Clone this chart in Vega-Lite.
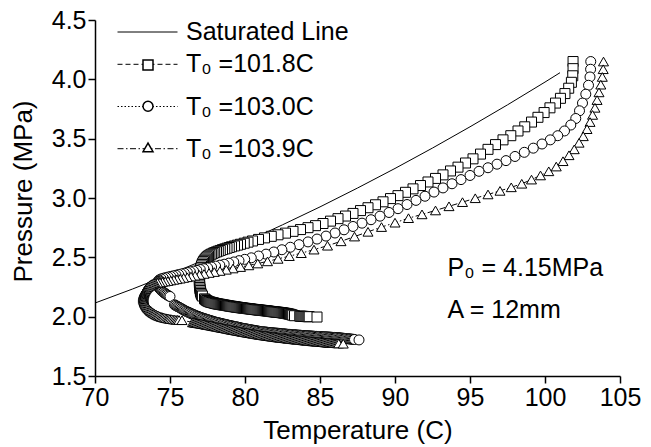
{
"$schema": "https://vega.github.io/schema/vega-lite/v6.json",
"width": 525, "height": 356,
"autosize": {"type": "none"},
"padding": {"left": 95, "top": 20, "right": 31, "bottom": 71},
"background": "white",
"config": {"view": {"stroke": null}, "font": "Liberation Sans"},
"datasets": {
"curves": [
{"s":"Saturated Line","T":70,"P":2.115},{"s":"Saturated Line","T":72.5,"P":2.233},{"s":"Saturated Line","T":75,"P":2.358},{"s":"Saturated Line","T":77.5,"P":2.49},{"s":"Saturated Line","T":80,"P":2.628},{"s":"Saturated Line","T":82.5,"P":2.774},{"s":"Saturated Line","T":85,"P":2.925},{"s":"Saturated Line","T":87.5,"P":3.084},{"s":"Saturated Line","T":90,"P":3.249},{"s":"Saturated Line","T":92.5,"P":3.421},{"s":"Saturated Line","T":95,"P":3.6},{"s":"Saturated Line","T":97.5,"P":3.785},{"s":"Saturated Line","T":100,"P":3.977},{"s":"Saturated Line","T":101,"P":4.056},

{"s":"T₀ =101.8C","T":101.87,"P":4.15},{"s":"T₀ =101.8C","T":101.87,"P":4.09},{"s":"T₀ =101.8C","T":101.85,"P":4.03},{"s":"T₀ =101.8C","T":101.76,"P":3.975},{"s":"T₀ =101.8C","T":101.58,"P":3.925},{"s":"T₀ =101.8C","T":101.33,"P":3.88},{"s":"T₀ =101.8C","T":101.03,"P":3.84},{"s":"T₀ =101.8C","T":100.7,"P":3.8},{"s":"T₀ =101.8C","T":100.33,"P":3.76},{"s":"T₀ =101.8C","T":99.94,"P":3.72},{"s":"T₀ =101.8C","T":99.53,"P":3.68},{"s":"T₀ =101.8C","T":99.1,"P":3.64},{"s":"T₀ =101.8C","T":98.65,"P":3.6},{"s":"T₀ =101.8C","T":98.2,"P":3.565},{"s":"T₀ =101.8C","T":97.72,"P":3.525},{"s":"T₀ =101.8C","T":97.2,"P":3.49},{"s":"T₀ =101.8C","T":96.7,"P":3.45},{"s":"T₀ =101.8C","T":96.2,"P":3.41},{"s":"T₀ =101.8C","T":95.7,"P":3.37},{"s":"T₀ =101.8C","T":95.2,"P":3.33},{"s":"T₀ =101.8C","T":94.7,"P":3.295},{"s":"T₀ =101.8C","T":94.2,"P":3.26},{"s":"T₀ =101.8C","T":93.7,"P":3.228},{"s":"T₀ =101.8C","T":93.2,"P":3.195},{"s":"T₀ =101.8C","T":92.7,"P":3.165},{"s":"T₀ =101.8C","T":92.2,"P":3.135},{"s":"T₀ =101.8C","T":91.7,"P":3.105},{"s":"T₀ =101.8C","T":91.2,"P":3.077},{"s":"T₀ =101.8C","T":90.7,"P":3.048},{"s":"T₀ =101.8C","T":90.2,"P":3.02},{"s":"T₀ =101.8C","T":89.7,"P":2.995},{"s":"T₀ =101.8C","T":89.2,"P":2.968},{"s":"T₀ =101.8C","T":88.7,"P":2.943},{"s":"T₀ =101.8C","T":88.2,"P":2.918},{"s":"T₀ =101.8C","T":87.7,"P":2.894},{"s":"T₀ =101.8C","T":87.2,"P":2.87},{"s":"T₀ =101.8C","T":86.7,"P":2.848},{"s":"T₀ =101.8C","T":86.2,"P":2.826},{"s":"T₀ =101.8C","T":85.7,"P":2.805},{"s":"T₀ =101.8C","T":85.2,"P":2.785},{"s":"T₀ =101.8C","T":84.7,"P":2.767},{"s":"T₀ =101.8C","T":84.2,"P":2.75},{"s":"T₀ =101.8C","T":83.7,"P":2.734},{"s":"T₀ =101.8C","T":83.2,"P":2.719},{"s":"T₀ =101.8C","T":82.7,"P":2.704},{"s":"T₀ =101.8C","T":82.2,"P":2.69},{"s":"T₀ =101.8C","T":81.75,"P":2.677},{"s":"T₀ =101.8C","T":81.3,"P":2.664},{"s":"T₀ =101.8C","T":80.9,"P":2.651},{"s":"T₀ =101.8C","T":80.5,"P":2.638},{"s":"T₀ =101.8C","T":80.2,"P":2.628},{"s":"T₀ =101.8C","T":79.95,"P":2.619},{"s":"T₀ =101.8C","T":79.7,"P":2.61},{"s":"T₀ =101.8C","T":79.5,"P":2.603},{"s":"T₀ =101.8C","T":79.3,"P":2.596},{"s":"T₀ =101.8C","T":79.1,"P":2.589},{"s":"T₀ =101.8C","T":78.95,"P":2.583},{"s":"T₀ =101.8C","T":78.8,"P":2.577},{"s":"T₀ =101.8C","T":78.65,"P":2.571},{"s":"T₀ =101.8C","T":78.5,"P":2.565},{"s":"T₀ =101.8C","T":78.35,"P":2.558},{"s":"T₀ =101.8C","T":78.22,"P":2.552},{"s":"T₀ =101.8C","T":78.1,"P":2.546},{"s":"T₀ =101.8C","T":77.98,"P":2.54},{"s":"T₀ =101.8C","T":77.87,"P":2.534},{"s":"T₀ =101.8C","T":77.76,"P":2.527},{"s":"T₀ =101.8C","T":77.66,"P":2.52},{"s":"T₀ =101.8C","T":77.57,"P":2.512},{"s":"T₀ =101.8C","T":77.49,"P":2.504},{"s":"T₀ =101.8C","T":77.42,"P":2.495},{"s":"T₀ =101.8C","T":77.35,"P":2.485},{"s":"T₀ =101.8C","T":77.29,"P":2.475},{"s":"T₀ =101.8C","T":77.23,"P":2.464},{"s":"T₀ =101.8C","T":77.18,"P":2.452},{"s":"T₀ =101.8C","T":77.14,"P":2.44},{"s":"T₀ =101.8C","T":77.1,"P":2.428},{"s":"T₀ =101.8C","T":77.07,"P":2.415},{"s":"T₀ =101.8C","T":77.04,"P":2.402},{"s":"T₀ =101.8C","T":77.02,"P":2.389},{"s":"T₀ =101.8C","T":77.0,"P":2.376},{"s":"T₀ =101.8C","T":76.99,"P":2.363},{"s":"T₀ =101.8C","T":76.98,"P":2.35},{"s":"T₀ =101.8C","T":76.97,"P":2.337},{"s":"T₀ =101.8C","T":76.96,"P":2.324},{"s":"T₀ =101.8C","T":76.96,"P":2.311},{"s":"T₀ =101.8C","T":76.96,"P":2.298},{"s":"T₀ =101.8C","T":76.96,"P":2.285},{"s":"T₀ =101.8C","T":76.97,"P":2.272},{"s":"T₀ =101.8C","T":76.98,"P":2.259},{"s":"T₀ =101.8C","T":76.99,"P":2.246},{"s":"T₀ =101.8C","T":77.0,"P":2.233},{"s":"T₀ =101.8C","T":77.02,"P":2.22},{"s":"T₀ =101.8C","T":77.04,"P":2.207},{"s":"T₀ =101.8C","T":77.07,"P":2.195},{"s":"T₀ =101.8C","T":77.11,"P":2.184},{"s":"T₀ =101.8C","T":77.16,"P":2.174},
{"s":"T₀ =101.8C","T":77.3,"P":2.15},{"s":"T₀ =101.8C","T":77.37,"P":2.143},{"s":"T₀ =101.8C","T":77.44,"P":2.136},{"s":"T₀ =101.8C","T":77.51,"P":2.131},{"s":"T₀ =101.8C","T":77.58,"P":2.127},{"s":"T₀ =101.8C","T":77.65,"P":2.124},{"s":"T₀ =101.8C","T":77.72,"P":2.121},{"s":"T₀ =101.8C","T":77.79,"P":2.119},{"s":"T₀ =101.8C","T":77.86,"P":2.117},{"s":"T₀ =101.8C","T":77.93,"P":2.115},{"s":"T₀ =101.8C","T":78.0,"P":2.112},{"s":"T₀ =101.8C","T":78.07,"P":2.11},{"s":"T₀ =101.8C","T":78.14,"P":2.108},{"s":"T₀ =101.8C","T":78.21,"P":2.107},{"s":"T₀ =101.8C","T":78.28,"P":2.105},{"s":"T₀ =101.8C","T":78.35,"P":2.104},{"s":"T₀ =101.8C","T":78.42,"P":2.102},{"s":"T₀ =101.8C","T":78.49,"P":2.1},{"s":"T₀ =101.8C","T":78.56,"P":2.099},{"s":"T₀ =101.8C","T":78.63,"P":2.097},{"s":"T₀ =101.8C","T":78.7,"P":2.096},{"s":"T₀ =101.8C","T":78.77,"P":2.094},{"s":"T₀ =101.8C","T":78.84,"P":2.093},{"s":"T₀ =101.8C","T":78.91,"P":2.091},{"s":"T₀ =101.8C","T":78.98,"P":2.089},{"s":"T₀ =101.8C","T":79.05,"P":2.088},{"s":"T₀ =101.8C","T":79.12,"P":2.087},{"s":"T₀ =101.8C","T":79.19,"P":2.085},{"s":"T₀ =101.8C","T":79.26,"P":2.084},{"s":"T₀ =101.8C","T":79.33,"P":2.083},{"s":"T₀ =101.8C","T":79.4,"P":2.081},{"s":"T₀ =101.8C","T":79.47,"P":2.08},{"s":"T₀ =101.8C","T":79.54,"P":2.079},{"s":"T₀ =101.8C","T":79.61,"P":2.077},{"s":"T₀ =101.8C","T":79.68,"P":2.076},{"s":"T₀ =101.8C","T":79.75,"P":2.075},{"s":"T₀ =101.8C","T":79.82,"P":2.074},{"s":"T₀ =101.8C","T":79.89,"P":2.072},{"s":"T₀ =101.8C","T":79.96,"P":2.071},{"s":"T₀ =101.8C","T":80.03,"P":2.07},{"s":"T₀ =101.8C","T":80.1,"P":2.069},{"s":"T₀ =101.8C","T":80.17,"P":2.068},{"s":"T₀ =101.8C","T":80.24,"P":2.067},{"s":"T₀ =101.8C","T":80.31,"P":2.066},{"s":"T₀ =101.8C","T":80.38,"P":2.065},{"s":"T₀ =101.8C","T":80.45,"P":2.063},{"s":"T₀ =101.8C","T":80.52,"P":2.062},{"s":"T₀ =101.8C","T":80.59,"P":2.061},{"s":"T₀ =101.8C","T":80.66,"P":2.06},{"s":"T₀ =101.8C","T":80.73,"P":2.059},{"s":"T₀ =101.8C","T":80.8,"P":2.058},{"s":"T₀ =101.8C","T":80.87,"P":2.057},{"s":"T₀ =101.8C","T":80.94,"P":2.056},{"s":"T₀ =101.8C","T":81.01,"P":2.055},{"s":"T₀ =101.8C","T":81.08,"P":2.054},{"s":"T₀ =101.8C","T":81.15,"P":2.053},{"s":"T₀ =101.8C","T":81.22,"P":2.052},{"s":"T₀ =101.8C","T":81.29,"P":2.051},{"s":"T₀ =101.8C","T":81.36,"P":2.05},{"s":"T₀ =101.8C","T":81.43,"P":2.049},{"s":"T₀ =101.8C","T":81.5,"P":2.048},{"s":"T₀ =101.8C","T":81.57,"P":2.047},{"s":"T₀ =101.8C","T":81.64,"P":2.045},{"s":"T₀ =101.8C","T":81.71,"P":2.044},{"s":"T₀ =101.8C","T":81.78,"P":2.043},{"s":"T₀ =101.8C","T":81.85,"P":2.042},{"s":"T₀ =101.8C","T":81.92,"P":2.041},{"s":"T₀ =101.8C","T":81.99,"P":2.04},{"s":"T₀ =101.8C","T":82.06,"P":2.039},{"s":"T₀ =101.8C","T":82.13,"P":2.038},{"s":"T₀ =101.8C","T":82.2,"P":2.037},{"s":"T₀ =101.8C","T":82.27,"P":2.036},{"s":"T₀ =101.8C","T":82.34,"P":2.035},{"s":"T₀ =101.8C","T":82.41,"P":2.034},{"s":"T₀ =101.8C","T":82.48,"P":2.033},{"s":"T₀ =101.8C","T":82.55,"P":2.031},{"s":"T₀ =101.8C","T":82.62,"P":2.03},{"s":"T₀ =101.8C","T":82.69,"P":2.028},{"s":"T₀ =101.8C","T":82.76,"P":2.027},{"s":"T₀ =101.8C","T":82.83,"P":2.025},{"s":"T₀ =101.8C","T":82.9,"P":2.023},{"s":"T₀ =101.8C","T":82.97,"P":2.021},{"s":"T₀ =101.8C","T":83.04,"P":2.019},{"s":"T₀ =101.8C","T":83.11,"P":2.016},{"s":"T₀ =101.8C","T":83.18,"P":2.013},{"s":"T₀ =101.8C","T":83.3,"P":2.008},{"s":"T₀ =101.8C","T":83.65,"P":2.004},{"s":"T₀ =101.8C","T":83.72,"P":2.0035},{"s":"T₀ =101.8C","T":83.79,"P":2.003},{"s":"T₀ =101.8C","T":83.86,"P":2.0025},{"s":"T₀ =101.8C","T":83.93,"P":2.002},{"s":"T₀ =101.8C","T":84.0,"P":2.0015},{"s":"T₀ =101.8C","T":84.07,"P":2.001},{"s":"T₀ =101.8C","T":84.14,"P":2.0005},{"s":"T₀ =101.8C","T":84.21,"P":2.0},{"s":"T₀ =101.8C","T":84.28,"P":2.0},{"s":"T₀ =101.8C","T":84.8,"P":1.997},

{"s":"T₀ =103.0C","T":103.05,"P":4.15},{"s":"T₀ =103.0C","T":103.04,"P":4.085},{"s":"T₀ =103.0C","T":103.0,"P":4.02},{"s":"T₀ =103.0C","T":102.9,"P":3.95},{"s":"T₀ =103.0C","T":102.72,"P":3.875},{"s":"T₀ =103.0C","T":102.5,"P":3.8},{"s":"T₀ =103.0C","T":102.3,"P":3.735},{"s":"T₀ =103.0C","T":102.05,"P":3.67},{"s":"T₀ =103.0C","T":101.72,"P":3.615},{"s":"T₀ =103.0C","T":101.3,"P":3.565},{"s":"T₀ =103.0C","T":100.85,"P":3.525},{"s":"T₀ =103.0C","T":100.35,"P":3.49},{"s":"T₀ =103.0C","T":99.8,"P":3.455},{"s":"T₀ =103.0C","T":99.22,"P":3.42},{"s":"T₀ =103.0C","T":98.62,"P":3.385},{"s":"T₀ =103.0C","T":98.0,"P":3.35},{"s":"T₀ =103.0C","T":97.4,"P":3.315},{"s":"T₀ =103.0C","T":96.8,"P":3.285},{"s":"T₀ =103.0C","T":96.2,"P":3.255},{"s":"T₀ =103.0C","T":95.6,"P":3.225},{"s":"T₀ =103.0C","T":95.0,"P":3.19},{"s":"T₀ =103.0C","T":94.4,"P":3.155},{"s":"T₀ =103.0C","T":93.8,"P":3.12},{"s":"T₀ =103.0C","T":93.2,"P":3.085},{"s":"T₀ =103.0C","T":92.6,"P":3.05},{"s":"T₀ =103.0C","T":92.0,"P":3.015},{"s":"T₀ =103.0C","T":91.4,"P":2.98},{"s":"T₀ =103.0C","T":90.8,"P":2.945},{"s":"T₀ =103.0C","T":90.2,"P":2.91},{"s":"T₀ =103.0C","T":89.6,"P":2.878},{"s":"T₀ =103.0C","T":89.0,"P":2.847},{"s":"T₀ =103.0C","T":88.4,"P":2.817},{"s":"T₀ =103.0C","T":87.8,"P":2.788},{"s":"T₀ =103.0C","T":87.2,"P":2.76},{"s":"T₀ =103.0C","T":86.6,"P":2.732},{"s":"T₀ =103.0C","T":86.0,"P":2.705},{"s":"T₀ =103.0C","T":85.4,"P":2.679},{"s":"T₀ =103.0C","T":84.8,"P":2.654},{"s":"T₀ =103.0C","T":84.2,"P":2.63},{"s":"T₀ =103.0C","T":83.6,"P":2.607},{"s":"T₀ =103.0C","T":83.02,"P":2.585},{"s":"T₀ =103.0C","T":82.46,"P":2.564},{"s":"T₀ =103.0C","T":81.92,"P":2.545},{"s":"T₀ =103.0C","T":81.4,"P":2.527},{"s":"T₀ =103.0C","T":80.9,"P":2.511},{"s":"T₀ =103.0C","T":80.42,"P":2.496},{"s":"T₀ =103.0C","T":79.98,"P":2.483},{"s":"T₀ =103.0C","T":79.6,"P":2.472},{"s":"T₀ =103.0C","T":79.25,"P":2.461},{"s":"T₀ =103.0C","T":78.92,"P":2.451},{"s":"T₀ =103.0C","T":78.61,"P":2.442},{"s":"T₀ =103.0C","T":78.32,"P":2.434},{"s":"T₀ =103.0C","T":78.04,"P":2.426},{"s":"T₀ =103.0C","T":77.77,"P":2.418},{"s":"T₀ =103.0C","T":77.51,"P":2.411},{"s":"T₀ =103.0C","T":77.26,"P":2.404},{"s":"T₀ =103.0C","T":77.02,"P":2.397},{"s":"T₀ =103.0C","T":76.79,"P":2.39},{"s":"T₀ =103.0C","T":76.57,"P":2.384},{"s":"T₀ =103.0C","T":76.36,"P":2.378},{"s":"T₀ =103.0C","T":76.16,"P":2.372},{"s":"T₀ =103.0C","T":75.96,"P":2.366},{"s":"T₀ =103.0C","T":75.77,"P":2.36},{"s":"T₀ =103.0C","T":75.58,"P":2.355},{"s":"T₀ =103.0C","T":75.4,"P":2.349},{"s":"T₀ =103.0C","T":75.22,"P":2.344},{"s":"T₀ =103.0C","T":75.05,"P":2.339},{"s":"T₀ =103.0C","T":74.88,"P":2.334},{"s":"T₀ =103.0C","T":74.72,"P":2.329},{"s":"T₀ =103.0C","T":74.56,"P":2.324},{"s":"T₀ =103.0C","T":74.41,"P":2.318},{"s":"T₀ =103.0C","T":74.28,"P":2.31},{"s":"T₀ =103.0C","T":74.24,"P":2.304},{"s":"T₀ =103.0C","T":74.2,"P":2.298},{"s":"T₀ =103.0C","T":74.18,"P":2.291},{"s":"T₀ =103.0C","T":74.17,"P":2.284},{"s":"T₀ =103.0C","T":74.17,"P":2.277},{"s":"T₀ =103.0C","T":74.18,"P":2.27},{"s":"T₀ =103.0C","T":74.2,"P":2.263},{"s":"T₀ =103.0C","T":74.22,"P":2.256},{"s":"T₀ =103.0C","T":74.25,"P":2.249},{"s":"T₀ =103.0C","T":74.28,"P":2.243},{"s":"T₀ =103.0C","T":74.32,"P":2.236},{"s":"T₀ =103.0C","T":74.36,"P":2.23},{"s":"T₀ =103.0C","T":74.41,"P":2.223},{"s":"T₀ =103.0C","T":74.46,"P":2.217},{"s":"T₀ =103.0C","T":74.51,"P":2.211},{"s":"T₀ =103.0C","T":74.57,"P":2.205},{"s":"T₀ =103.0C","T":74.63,"P":2.199},{"s":"T₀ =103.0C","T":74.7,"P":2.193},{"s":"T₀ =103.0C","T":74.77,"P":2.187},{"s":"T₀ =103.0C","T":74.84,"P":2.181},{"s":"T₀ =103.0C","T":74.92,"P":2.175},{"s":"T₀ =103.0C","T":75.0,"P":2.17},
{"s":"T₀ =103.0C","T":75.3,"P":2.1},{"s":"T₀ =103.0C","T":75.375,"P":2.095},{"s":"T₀ =103.0C","T":75.45,"P":2.089},{"s":"T₀ =103.0C","T":75.525,"P":2.084},{"s":"T₀ =103.0C","T":75.6,"P":2.079},{"s":"T₀ =103.0C","T":75.675,"P":2.074},{"s":"T₀ =103.0C","T":75.75,"P":2.068},{"s":"T₀ =103.0C","T":75.825,"P":2.063},{"s":"T₀ =103.0C","T":75.9,"P":2.057},{"s":"T₀ =103.0C","T":75.975,"P":2.052},{"s":"T₀ =103.0C","T":76.05,"P":2.047},{"s":"T₀ =103.0C","T":76.125,"P":2.043},{"s":"T₀ =103.0C","T":76.2,"P":2.038},{"s":"T₀ =103.0C","T":76.275,"P":2.034},{"s":"T₀ =103.0C","T":76.35,"P":2.03},{"s":"T₀ =103.0C","T":76.425,"P":2.025},{"s":"T₀ =103.0C","T":76.5,"P":2.021},{"s":"T₀ =103.0C","T":76.575,"P":2.017},{"s":"T₀ =103.0C","T":76.65,"P":2.013},{"s":"T₀ =103.0C","T":76.725,"P":2.009},{"s":"T₀ =103.0C","T":76.8,"P":2.005},{"s":"T₀ =103.0C","T":76.875,"P":2.002},{"s":"T₀ =103.0C","T":76.95,"P":1.998},{"s":"T₀ =103.0C","T":77.025,"P":1.995},{"s":"T₀ =103.0C","T":77.1,"P":1.991},{"s":"T₀ =103.0C","T":77.175,"P":1.988},{"s":"T₀ =103.0C","T":77.25,"P":1.985},{"s":"T₀ =103.0C","T":77.325,"P":1.982},{"s":"T₀ =103.0C","T":77.4,"P":1.979},{"s":"T₀ =103.0C","T":77.475,"P":1.976},{"s":"T₀ =103.0C","T":77.55,"P":1.973},{"s":"T₀ =103.0C","T":77.625,"P":1.97},{"s":"T₀ =103.0C","T":77.7,"P":1.967},{"s":"T₀ =103.0C","T":77.775,"P":1.964},{"s":"T₀ =103.0C","T":77.85,"P":1.961},{"s":"T₀ =103.0C","T":77.925,"P":1.958},{"s":"T₀ =103.0C","T":78.0,"P":1.955},{"s":"T₀ =103.0C","T":78.075,"P":1.953},{"s":"T₀ =103.0C","T":78.15,"P":1.951},{"s":"T₀ =103.0C","T":78.225,"P":1.948},{"s":"T₀ =103.0C","T":78.3,"P":1.946},{"s":"T₀ =103.0C","T":78.375,"P":1.944},{"s":"T₀ =103.0C","T":78.45,"P":1.942},{"s":"T₀ =103.0C","T":78.525,"P":1.939},{"s":"T₀ =103.0C","T":78.6,"P":1.937},{"s":"T₀ =103.0C","T":78.675,"P":1.935},{"s":"T₀ =103.0C","T":78.75,"P":1.933},{"s":"T₀ =103.0C","T":78.825,"P":1.93},{"s":"T₀ =103.0C","T":78.9,"P":1.928},{"s":"T₀ =103.0C","T":78.975,"P":1.926},{"s":"T₀ =103.0C","T":79.05,"P":1.924},{"s":"T₀ =103.0C","T":79.125,"P":1.922},{"s":"T₀ =103.0C","T":79.2,"P":1.92},{"s":"T₀ =103.0C","T":79.275,"P":1.918},{"s":"T₀ =103.0C","T":79.35,"P":1.916},{"s":"T₀ =103.0C","T":79.425,"P":1.914},{"s":"T₀ =103.0C","T":79.5,"P":1.912},{"s":"T₀ =103.0C","T":79.575,"P":1.91},{"s":"T₀ =103.0C","T":79.65,"P":1.908},{"s":"T₀ =103.0C","T":79.725,"P":1.905},{"s":"T₀ =103.0C","T":79.8,"P":1.903},{"s":"T₀ =103.0C","T":79.875,"P":1.901},{"s":"T₀ =103.0C","T":79.95,"P":1.9},{"s":"T₀ =103.0C","T":80.025,"P":1.898},{"s":"T₀ =103.0C","T":80.1,"P":1.896},{"s":"T₀ =103.0C","T":80.175,"P":1.894},{"s":"T₀ =103.0C","T":80.25,"P":1.893},{"s":"T₀ =103.0C","T":80.325,"P":1.891},{"s":"T₀ =103.0C","T":80.4,"P":1.889},{"s":"T₀ =103.0C","T":80.475,"P":1.887},{"s":"T₀ =103.0C","T":80.55,"P":1.886},{"s":"T₀ =103.0C","T":80.625,"P":1.884},{"s":"T₀ =103.0C","T":80.7,"P":1.882},{"s":"T₀ =103.0C","T":80.775,"P":1.88},{"s":"T₀ =103.0C","T":80.85,"P":1.879},{"s":"T₀ =103.0C","T":80.925,"P":1.877},{"s":"T₀ =103.0C","T":81.0,"P":1.875},{"s":"T₀ =103.0C","T":81.075,"P":1.874},{"s":"T₀ =103.0C","T":81.15,"P":1.873},{"s":"T₀ =103.0C","T":81.225,"P":1.872},{"s":"T₀ =103.0C","T":81.3,"P":1.871},{"s":"T₀ =103.0C","T":81.375,"P":1.87},{"s":"T₀ =103.0C","T":81.45,"P":1.869},{"s":"T₀ =103.0C","T":81.525,"P":1.868},{"s":"T₀ =103.0C","T":81.6,"P":1.867},{"s":"T₀ =103.0C","T":81.675,"P":1.866},{"s":"T₀ =103.0C","T":81.75,"P":1.865},{"s":"T₀ =103.0C","T":81.825,"P":1.864},{"s":"T₀ =103.0C","T":81.9,"P":1.863},{"s":"T₀ =103.0C","T":81.975,"P":1.862},{"s":"T₀ =103.0C","T":82.05,"P":1.861},{"s":"T₀ =103.0C","T":82.125,"P":1.861},{"s":"T₀ =103.0C","T":82.2,"P":1.86},{"s":"T₀ =103.0C","T":82.275,"P":1.859},{"s":"T₀ =103.0C","T":82.35,"P":1.858},{"s":"T₀ =103.0C","T":82.425,"P":1.857},{"s":"T₀ =103.0C","T":82.5,"P":1.856},{"s":"T₀ =103.0C","T":82.575,"P":1.855},{"s":"T₀ =103.0C","T":82.65,"P":1.854},{"s":"T₀ =103.0C","T":82.725,"P":1.853},{"s":"T₀ =103.0C","T":82.8,"P":1.852},{"s":"T₀ =103.0C","T":82.875,"P":1.851},{"s":"T₀ =103.0C","T":82.95,"P":1.851},{"s":"T₀ =103.0C","T":83.025,"P":1.85},{"s":"T₀ =103.0C","T":83.1,"P":1.849},{"s":"T₀ =103.0C","T":83.175,"P":1.848},{"s":"T₀ =103.0C","T":83.25,"P":1.847},{"s":"T₀ =103.0C","T":83.325,"P":1.847},{"s":"T₀ =103.0C","T":83.4,"P":1.846},{"s":"T₀ =103.0C","T":83.475,"P":1.845},{"s":"T₀ =103.0C","T":83.55,"P":1.844},{"s":"T₀ =103.0C","T":83.625,"P":1.844},{"s":"T₀ =103.0C","T":83.7,"P":1.843},{"s":"T₀ =103.0C","T":83.775,"P":1.842},{"s":"T₀ =103.0C","T":83.85,"P":1.841},{"s":"T₀ =103.0C","T":83.925,"P":1.841},{"s":"T₀ =103.0C","T":84.0,"P":1.84},{"s":"T₀ =103.0C","T":84.075,"P":1.839},{"s":"T₀ =103.0C","T":84.15,"P":1.839},{"s":"T₀ =103.0C","T":84.225,"P":1.838},{"s":"T₀ =103.0C","T":84.3,"P":1.838},{"s":"T₀ =103.0C","T":84.375,"P":1.837},{"s":"T₀ =103.0C","T":84.45,"P":1.836},{"s":"T₀ =103.0C","T":84.525,"P":1.836},{"s":"T₀ =103.0C","T":84.6,"P":1.835},{"s":"T₀ =103.0C","T":84.675,"P":1.834},{"s":"T₀ =103.0C","T":84.75,"P":1.834},{"s":"T₀ =103.0C","T":84.825,"P":1.833},{"s":"T₀ =103.0C","T":84.9,"P":1.833},{"s":"T₀ =103.0C","T":84.975,"P":1.832},{"s":"T₀ =103.0C","T":85.05,"P":1.832},{"s":"T₀ =103.0C","T":85.125,"P":1.831},{"s":"T₀ =103.0C","T":85.2,"P":1.831},{"s":"T₀ =103.0C","T":85.275,"P":1.83},{"s":"T₀ =103.0C","T":85.35,"P":1.83},{"s":"T₀ =103.0C","T":85.425,"P":1.829},{"s":"T₀ =103.0C","T":85.5,"P":1.829},{"s":"T₀ =103.0C","T":85.575,"P":1.828},{"s":"T₀ =103.0C","T":85.65,"P":1.827},{"s":"T₀ =103.0C","T":85.725,"P":1.827},{"s":"T₀ =103.0C","T":85.8,"P":1.826},{"s":"T₀ =103.0C","T":85.875,"P":1.825},{"s":"T₀ =103.0C","T":85.95,"P":1.825},{"s":"T₀ =103.0C","T":86.025,"P":1.824},{"s":"T₀ =103.0C","T":86.1,"P":1.824},{"s":"T₀ =103.0C","T":86.175,"P":1.823},{"s":"T₀ =103.0C","T":86.25,"P":1.822},{"s":"T₀ =103.0C","T":86.325,"P":1.821},{"s":"T₀ =103.0C","T":86.4,"P":1.82},{"s":"T₀ =103.0C","T":86.475,"P":1.819},{"s":"T₀ =103.0C","T":86.55,"P":1.818},{"s":"T₀ =103.0C","T":86.625,"P":1.817},{"s":"T₀ =103.0C","T":86.7,"P":1.816},{"s":"T₀ =103.0C","T":86.775,"P":1.815},{"s":"T₀ =103.0C","T":86.85,"P":1.814},{"s":"T₀ =103.0C","T":86.925,"P":1.813},{"s":"T₀ =103.0C","T":87.0,"P":1.812},{"s":"T₀ =103.0C","T":87.075,"P":1.811},{"s":"T₀ =103.0C","T":87.15,"P":1.81},{"s":"T₀ =103.0C","T":87.225,"P":1.809},{"s":"T₀ =103.0C","T":87.3,"P":1.808},{"s":"T₀ =103.0C","T":87.6,"P":1.804},

{"s":"T₀ =103.9C","T":103.9,"P":4.15},{"s":"T₀ =103.9C","T":103.88,"P":4.085},{"s":"T₀ =103.9C","T":103.82,"P":4.02},{"s":"T₀ =103.9C","T":103.72,"P":3.955},{"s":"T₀ =103.9C","T":103.6,"P":3.89},{"s":"T₀ =103.9C","T":103.47,"P":3.825},{"s":"T₀ =103.9C","T":103.33,"P":3.76},{"s":"T₀ =103.9C","T":103.17,"P":3.7},{"s":"T₀ =103.9C","T":103.0,"P":3.64},{"s":"T₀ =103.9C","T":102.8,"P":3.58},{"s":"T₀ =103.9C","T":102.55,"P":3.52},{"s":"T₀ =103.9C","T":102.27,"P":3.465},{"s":"T₀ =103.9C","T":101.95,"P":3.41},{"s":"T₀ =103.9C","T":101.6,"P":3.36},{"s":"T₀ =103.9C","T":101.2,"P":3.31},{"s":"T₀ =103.9C","T":100.75,"P":3.265},{"s":"T₀ =103.9C","T":100.25,"P":3.225},{"s":"T₀ =103.9C","T":99.7,"P":3.19},{"s":"T₀ =103.9C","T":99.1,"P":3.155},{"s":"T₀ =103.9C","T":98.45,"P":3.12},{"s":"T₀ =103.9C","T":97.75,"P":3.09},{"s":"T₀ =103.9C","T":97.0,"P":3.06},{"s":"T₀ =103.9C","T":96.2,"P":3.03},{"s":"T₀ =103.9C","T":95.35,"P":2.998},{"s":"T₀ =103.9C","T":94.5,"P":2.965},{"s":"T₀ =103.9C","T":93.6,"P":2.93},{"s":"T₀ =103.9C","T":92.7,"P":2.895},{"s":"T₀ =103.9C","T":91.8,"P":2.862},{"s":"T₀ =103.9C","T":90.9,"P":2.83},{"s":"T₀ =103.9C","T":90.0,"P":2.792},{"s":"T₀ =103.9C","T":89.1,"P":2.755},{"s":"T₀ =103.9C","T":88.2,"P":2.715},{"s":"T₀ =103.9C","T":87.3,"P":2.675},{"s":"T₀ =103.9C","T":86.4,"P":2.635},{"s":"T₀ =103.9C","T":85.5,"P":2.598},{"s":"T₀ =103.9C","T":84.6,"P":2.565},{"s":"T₀ =103.9C","T":83.75,"P":2.535},{"s":"T₀ =103.9C","T":82.95,"P":2.51},{"s":"T₀ =103.9C","T":82.2,"P":2.487},{"s":"T₀ =103.9C","T":81.5,"P":2.466},{"s":"T₀ =103.9C","T":80.85,"P":2.448},{"s":"T₀ =103.9C","T":80.25,"P":2.432},{"s":"T₀ =103.9C","T":79.7,"P":2.418},{"s":"T₀ =103.9C","T":79.2,"P":2.406},{"s":"T₀ =103.9C","T":78.75,"P":2.395},{"s":"T₀ =103.9C","T":78.33,"P":2.385},{"s":"T₀ =103.9C","T":77.95,"P":2.376},{"s":"T₀ =103.9C","T":77.6,"P":2.368},{"s":"T₀ =103.9C","T":77.27,"P":2.36},{"s":"T₀ =103.9C","T":76.96,"P":2.352},{"s":"T₀ =103.9C","T":76.67,"P":2.345},{"s":"T₀ =103.9C","T":76.4,"P":2.338},{"s":"T₀ =103.9C","T":76.15,"P":2.332},{"s":"T₀ =103.9C","T":75.91,"P":2.326},{"s":"T₀ =103.9C","T":75.68,"P":2.32},{"s":"T₀ =103.9C","T":75.46,"P":2.315},{"s":"T₀ =103.9C","T":75.25,"P":2.31},{"s":"T₀ =103.9C","T":75.05,"P":2.305},{"s":"T₀ =103.9C","T":74.86,"P":2.3},{"s":"T₀ =103.9C","T":74.68,"P":2.296},{"s":"T₀ =103.9C","T":74.5,"P":2.292},{"s":"T₀ =103.9C","T":74.33,"P":2.289},{"s":"T₀ =103.9C","T":74.17,"P":2.286},{"s":"T₀ =103.9C","T":74.02,"P":2.283},{"s":"T₀ =103.9C","T":73.95,"P":2.281},{"s":"T₀ =103.9C","T":73.88,"P":2.279},{"s":"T₀ =103.9C","T":73.81,"P":2.276},{"s":"T₀ =103.9C","T":73.75,"P":2.272},{"s":"T₀ =103.9C","T":73.69,"P":2.267},{"s":"T₀ =103.9C","T":73.63,"P":2.262},{"s":"T₀ =103.9C","T":73.57,"P":2.256},{"s":"T₀ =103.9C","T":73.52,"P":2.25},{"s":"T₀ =103.9C","T":73.47,"P":2.244},{"s":"T₀ =103.9C","T":73.42,"P":2.237},{"s":"T₀ =103.9C","T":73.38,"P":2.23},{"s":"T₀ =103.9C","T":73.34,"P":2.222},{"s":"T₀ =103.9C","T":73.31,"P":2.214},{"s":"T₀ =103.9C","T":73.28,"P":2.206},{"s":"T₀ =103.9C","T":73.26,"P":2.198},{"s":"T₀ =103.9C","T":73.24,"P":2.19},{"s":"T₀ =103.9C","T":73.23,"P":2.182},{"s":"T₀ =103.9C","T":73.22,"P":2.174},{"s":"T₀ =103.9C","T":73.22,"P":2.166},{"s":"T₀ =103.9C","T":73.22,"P":2.158},{"s":"T₀ =103.9C","T":73.23,"P":2.15},{"s":"T₀ =103.9C","T":73.24,"P":2.142},{"s":"T₀ =103.9C","T":73.26,"P":2.134},{"s":"T₀ =103.9C","T":73.28,"P":2.126},{"s":"T₀ =103.9C","T":73.3,"P":2.118},{"s":"T₀ =103.9C","T":73.33,"P":2.11},{"s":"T₀ =103.9C","T":73.36,"P":2.102},{"s":"T₀ =103.9C","T":73.4,"P":2.095},{"s":"T₀ =103.9C","T":73.44,"P":2.087},{"s":"T₀ =103.9C","T":73.48,"P":2.08},{"s":"T₀ =103.9C","T":73.52,"P":2.073},{"s":"T₀ =103.9C","T":73.57,"P":2.066},{"s":"T₀ =103.9C","T":73.62,"P":2.059},{"s":"T₀ =103.9C","T":73.67,"P":2.053},{"s":"T₀ =103.9C","T":73.72,"P":2.047},{"s":"T₀ =103.9C","T":73.78,"P":2.041},{"s":"T₀ =103.9C","T":73.84,"P":2.035},{"s":"T₀ =103.9C","T":73.9,"P":2.03},{"s":"T₀ =103.9C","T":73.96,"P":2.025},{"s":"T₀ =103.9C","T":74.03,"P":2.02},{"s":"T₀ =103.9C","T":74.1,"P":2.015},{"s":"T₀ =103.9C","T":74.17,"P":2.011},{"s":"T₀ =103.9C","T":74.24,"P":2.007},{"s":"T₀ =103.9C","T":74.32,"P":2.003},{"s":"T₀ =103.9C","T":74.4,"P":1.999},{"s":"T₀ =103.9C","T":74.48,"P":1.996},{"s":"T₀ =103.9C","T":74.56,"P":1.993},{"s":"T₀ =103.9C","T":74.65,"P":1.99},{"s":"T₀ =103.9C","T":74.74,"P":1.987},{"s":"T₀ =103.9C","T":74.83,"P":1.985},{"s":"T₀ =103.9C","T":74.91,"P":1.983},{"s":"T₀ =103.9C","T":75.0,"P":1.981},{"s":"T₀ =103.9C","T":75.1,"P":1.979},{"s":"T₀ =103.9C","T":75.2,"P":1.977},{"s":"T₀ =103.9C","T":75.3,"P":1.975},{"s":"T₀ =103.9C","T":75.4,"P":1.974},{"s":"T₀ =103.9C","T":75.5,"P":1.973},{"s":"T₀ =103.9C","T":75.6,"P":1.972},{"s":"T₀ =103.9C","T":75.8,"P":1.97},
{"s":"T₀ =103.9C","T":76.5,"P":1.952},{"s":"T₀ =103.9C","T":76.575,"P":1.95},{"s":"T₀ =103.9C","T":76.65,"P":1.949},{"s":"T₀ =103.9C","T":76.725,"P":1.947},{"s":"T₀ =103.9C","T":76.8,"P":1.946},{"s":"T₀ =103.9C","T":76.875,"P":1.944},{"s":"T₀ =103.9C","T":76.95,"P":1.943},{"s":"T₀ =103.9C","T":77.025,"P":1.941},{"s":"T₀ =103.9C","T":77.1,"P":1.939},{"s":"T₀ =103.9C","T":77.175,"P":1.937},{"s":"T₀ =103.9C","T":77.25,"P":1.936},{"s":"T₀ =103.9C","T":77.325,"P":1.934},{"s":"T₀ =103.9C","T":77.4,"P":1.932},{"s":"T₀ =103.9C","T":77.475,"P":1.93},{"s":"T₀ =103.9C","T":77.55,"P":1.929},{"s":"T₀ =103.9C","T":77.625,"P":1.927},{"s":"T₀ =103.9C","T":77.7,"P":1.925},{"s":"T₀ =103.9C","T":77.775,"P":1.923},{"s":"T₀ =103.9C","T":77.85,"P":1.921},{"s":"T₀ =103.9C","T":77.925,"P":1.919},{"s":"T₀ =103.9C","T":78.0,"P":1.918},{"s":"T₀ =103.9C","T":78.075,"P":1.916},{"s":"T₀ =103.9C","T":78.15,"P":1.914},{"s":"T₀ =103.9C","T":78.225,"P":1.912},{"s":"T₀ =103.9C","T":78.3,"P":1.91},{"s":"T₀ =103.9C","T":78.375,"P":1.908},{"s":"T₀ =103.9C","T":78.45,"P":1.906},{"s":"T₀ =103.9C","T":78.525,"P":1.904},{"s":"T₀ =103.9C","T":78.6,"P":1.903},{"s":"T₀ =103.9C","T":78.675,"P":1.901},{"s":"T₀ =103.9C","T":78.75,"P":1.899},{"s":"T₀ =103.9C","T":78.825,"P":1.897},{"s":"T₀ =103.9C","T":78.9,"P":1.895},{"s":"T₀ =103.9C","T":78.975,"P":1.893},{"s":"T₀ =103.9C","T":79.05,"P":1.891},{"s":"T₀ =103.9C","T":79.125,"P":1.889},{"s":"T₀ =103.9C","T":79.2,"P":1.888},{"s":"T₀ =103.9C","T":79.275,"P":1.886},{"s":"T₀ =103.9C","T":79.35,"P":1.884},{"s":"T₀ =103.9C","T":79.425,"P":1.882},{"s":"T₀ =103.9C","T":79.5,"P":1.88},{"s":"T₀ =103.9C","T":79.575,"P":1.878},{"s":"T₀ =103.9C","T":79.65,"P":1.877},{"s":"T₀ =103.9C","T":79.725,"P":1.875},{"s":"T₀ =103.9C","T":79.8,"P":1.873},{"s":"T₀ =103.9C","T":79.875,"P":1.871},{"s":"T₀ =103.9C","T":79.95,"P":1.87},{"s":"T₀ =103.9C","T":80.025,"P":1.868},{"s":"T₀ =103.9C","T":80.1,"P":1.866},{"s":"T₀ =103.9C","T":80.175,"P":1.864},{"s":"T₀ =103.9C","T":80.25,"P":1.863},{"s":"T₀ =103.9C","T":80.325,"P":1.861},{"s":"T₀ =103.9C","T":80.4,"P":1.86},{"s":"T₀ =103.9C","T":80.475,"P":1.858},{"s":"T₀ =103.9C","T":80.55,"P":1.856},{"s":"T₀ =103.9C","T":80.625,"P":1.855},{"s":"T₀ =103.9C","T":80.7,"P":1.853},{"s":"T₀ =103.9C","T":80.775,"P":1.851},{"s":"T₀ =103.9C","T":80.85,"P":1.85},{"s":"T₀ =103.9C","T":80.925,"P":1.848},{"s":"T₀ =103.9C","T":81.0,"P":1.847},{"s":"T₀ =103.9C","T":81.075,"P":1.845},{"s":"T₀ =103.9C","T":81.15,"P":1.844},{"s":"T₀ =103.9C","T":81.225,"P":1.842},{"s":"T₀ =103.9C","T":81.3,"P":1.841},{"s":"T₀ =103.9C","T":81.375,"P":1.84},{"s":"T₀ =103.9C","T":81.45,"P":1.838},{"s":"T₀ =103.9C","T":81.525,"P":1.837},{"s":"T₀ =103.9C","T":81.6,"P":1.836},{"s":"T₀ =103.9C","T":81.675,"P":1.834},{"s":"T₀ =103.9C","T":81.75,"P":1.833},{"s":"T₀ =103.9C","T":81.825,"P":1.831},{"s":"T₀ =103.9C","T":81.9,"P":1.83},{"s":"T₀ =103.9C","T":81.975,"P":1.829},{"s":"T₀ =103.9C","T":82.05,"P":1.827},{"s":"T₀ =103.9C","T":82.125,"P":1.826},{"s":"T₀ =103.9C","T":82.2,"P":1.825},{"s":"T₀ =103.9C","T":82.275,"P":1.824},{"s":"T₀ =103.9C","T":82.35,"P":1.822},{"s":"T₀ =103.9C","T":82.425,"P":1.821},{"s":"T₀ =103.9C","T":82.5,"P":1.82},{"s":"T₀ =103.9C","T":82.575,"P":1.819},{"s":"T₀ =103.9C","T":82.65,"P":1.818},{"s":"T₀ =103.9C","T":82.725,"P":1.817},{"s":"T₀ =103.9C","T":82.8,"P":1.816},{"s":"T₀ =103.9C","T":82.875,"P":1.814},{"s":"T₀ =103.9C","T":82.95,"P":1.813},{"s":"T₀ =103.9C","T":83.025,"P":1.812},{"s":"T₀ =103.9C","T":83.1,"P":1.811},{"s":"T₀ =103.9C","T":83.175,"P":1.81},{"s":"T₀ =103.9C","T":83.25,"P":1.809},{"s":"T₀ =103.9C","T":83.325,"P":1.808},{"s":"T₀ =103.9C","T":83.4,"P":1.807},{"s":"T₀ =103.9C","T":83.475,"P":1.806},{"s":"T₀ =103.9C","T":83.55,"P":1.805},{"s":"T₀ =103.9C","T":83.625,"P":1.804},{"s":"T₀ =103.9C","T":83.7,"P":1.803},{"s":"T₀ =103.9C","T":83.775,"P":1.802},{"s":"T₀ =103.9C","T":83.85,"P":1.801},{"s":"T₀ =103.9C","T":83.925,"P":1.8},{"s":"T₀ =103.9C","T":84.0,"P":1.799},{"s":"T₀ =103.9C","T":84.075,"P":1.798},{"s":"T₀ =103.9C","T":84.15,"P":1.797},{"s":"T₀ =103.9C","T":84.225,"P":1.796},{"s":"T₀ =103.9C","T":84.3,"P":1.795},{"s":"T₀ =103.9C","T":84.375,"P":1.794},{"s":"T₀ =103.9C","T":84.45,"P":1.793},{"s":"T₀ =103.9C","T":84.525,"P":1.792},{"s":"T₀ =103.9C","T":84.6,"P":1.792},{"s":"T₀ =103.9C","T":84.675,"P":1.791},{"s":"T₀ =103.9C","T":84.75,"P":1.79},{"s":"T₀ =103.9C","T":84.825,"P":1.789},{"s":"T₀ =103.9C","T":84.9,"P":1.788},{"s":"T₀ =103.9C","T":84.975,"P":1.787},{"s":"T₀ =103.9C","T":85.05,"P":1.786},{"s":"T₀ =103.9C","T":85.125,"P":1.785},{"s":"T₀ =103.9C","T":85.2,"P":1.785},{"s":"T₀ =103.9C","T":85.275,"P":1.784},{"s":"T₀ =103.9C","T":85.35,"P":1.783},{"s":"T₀ =103.9C","T":85.425,"P":1.782},{"s":"T₀ =103.9C","T":85.5,"P":1.781},{"s":"T₀ =103.9C","T":85.575,"P":1.78},{"s":"T₀ =103.9C","T":85.65,"P":1.78},{"s":"T₀ =103.9C","T":85.725,"P":1.779},{"s":"T₀ =103.9C","T":85.8,"P":1.778},{"s":"T₀ =103.9C","T":85.875,"P":1.778},{"s":"T₀ =103.9C","T":85.95,"P":1.777},{"s":"T₀ =103.9C","T":86.025,"P":1.777},{"s":"T₀ =103.9C","T":86.1,"P":1.776},{"s":"T₀ =103.9C","T":86.175,"P":1.775},{"s":"T₀ =103.9C","T":86.25,"P":1.774},{"s":"T₀ =103.9C","T":86.55,"P":1.772}
],
"notes": [
{"T":93.5,"P":2.41,"label":"P₀ = 4.15MPa"},
{"T":93.5,"P":2.056,"label":"A = 12mm"}
]
},
"layer": [
{
"data": {"name": "curves"},
"transform": [{"filter": "datum.s == 'Saturated Line'"}],
"mark": {"type": "line", "strokeWidth": 1},
"encoding": {
"x": {"field": "T", "type": "quantitative",
"scale": {"domain": [70, 105], "nice": false, "zero": false},
"axis": {"title": "Temperature (C)", "values": [70,72.5,75,77.5,80,82.5,85,87.5,90,92.5,95,97.5,100,102.5,105],
"format": ".0f", "labelExpr": "datum.value % 5 == 0 ? datum.label : ''",
"tickSize": {"condition": {"test": "datum.value % 5 == 0", "value": 7}, "value": 4},
"grid": false, "domainColor": "black", "domainWidth": 1.5, "tickColor": "black", "tickWidth": 1.5,
"labelFontSize": 25, "labelColor": "black", "labelPadding": 2, "labelFlush": false, "labelOverlap": false, "labelFont": "Liberation Sans",
"titleFontSize": 26, "titleFontWeight": "normal", "titleColor": "black", "titleFont": "Liberation Sans", "titleY": 54, "titleBaseline": "middle"}},
"y": {"field": "P", "type": "quantitative",
"scale": {"domain": [1.5, 4.5], "nice": false, "zero": false},
"axis": {"title": "Pressure (MPa)", "values": [1.5,1.75,2,2.25,2.5,2.75,3,3.25,3.5,3.75,4,4.25,4.5],
"format": ".1f", "labelExpr": "(datum.value * 2) % 1 == 0 ? datum.label : ''",
"tickSize": {"condition": {"test": "(datum.value * 2) % 1 == 0", "value": 7}, "value": 4},
"grid": false, "domainColor": "black", "domainWidth": 1.5, "tickColor": "black", "tickWidth": 1.5,
"labelFontSize": 25, "labelColor": "black", "labelPadding": 2, "labelFlush": false, "labelOverlap": false, "labelFont": "Liberation Sans",
"titleFontSize": 26, "titleFontWeight": "normal", "titleColor": "black", "titleFont": "Liberation Sans", "titleX": -72, "titleY": 171, "titleBaseline": "middle"}},
"color": {"field": "s", "type": "nominal",
"scale": {"domain": ["Saturated Line"], "range": ["black"]},
"legend": {"orient": "none", "legendX": 22, "legendY": -0.5, "title": null, "symbolType": "stroke", "symbolSize": 3600, "clipHeight": 25,
"symbolStrokeWidth": 1, "labelFontSize": 25, "labelColor": "black", "labelFont": "Liberation Sans",
"labelOffset": 8, "padding": 0, "labelLimit": 400}}
}
},
{
"data": {"name": "curves"},
"transform": [{"filter": "datum.s != 'Saturated Line'"}],
"mark": {"type": "line", "stroke": "black", "strokeWidth": 1},
"encoding": {
"x": {"field": "T", "type": "quantitative"},
"y": {"field": "P", "type": "quantitative"},
"strokeDash": {"field": "s", "type": "nominal",
"scale": {"domain": ["T₀ =101.8C", "T₀ =103.0C", "T₀ =103.9C"], "range": [[5,3],[1.5,2],[6,2.5,1.5,2.5]]},
"legend": {"orient": "none", "legendX": 22, "legendY": 31.8, "title": null, "symbolType": "stroke", "symbolSize": 3600, "clipHeight": 25,
"symbolStrokeWidth": 1, "symbolStrokeColor": "black", "labelFontSize": 25, "labelColor": "black", "labelFont": "Liberation Sans",
"labelOffset": 8, "rowPadding": 16.2, "padding": 0, "labelLimit": 400}},
"order": {"value": null}
}
},
{
"data": {"name": "curves"},
"transform": [{"filter": "datum.s != 'Saturated Line'"}],
"mark": {"type": "point", "filled": true, "fill": "white", "stroke": "black", "strokeWidth": 1, "opacity": 1, "size": 100},
"encoding": {
"x": {"field": "T", "type": "quantitative"},
"y": {"field": "P", "type": "quantitative"},
"shape": {"field": "s", "type": "nominal",
"scale": {"range": ["square", "circle", "triangle-up"]},
"legend": {"orient": "none", "legendX": 47, "legendY": 32.5, "title": null, "symbolSize": 100, "clipHeight": 25,
"labelExpr": "''", "rowPadding": 16.2, "padding": 0,
"encode": {"symbols": {"update": {"fill": {"value": "white"}, "stroke": {"value": "black"}, "strokeWidth": {"value": 1}, "opacity": {"value": 1}}}}}}
}
},
{
"data": {"name": "notes"},
"mark": {"type": "text", "align": "left", "baseline": "middle", "fontSize": 25, "font": "Liberation Sans", "color": "black"},
"encoding": {
"x": {"field": "T", "type": "quantitative"},
"y": {"field": "P", "type": "quantitative"},
"text": {"field": "label"}
}
}
]
}
